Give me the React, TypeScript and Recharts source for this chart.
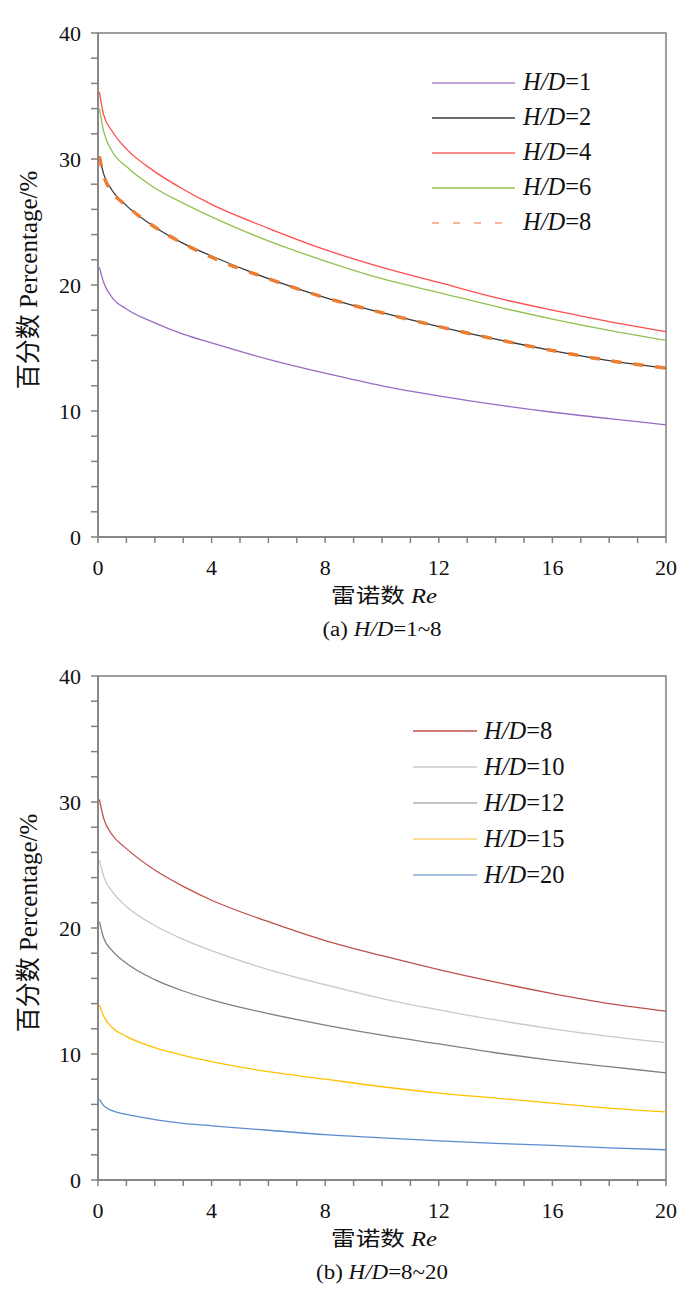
import React from 'react';
import { LineChart, Line, XAxis, YAxis, ReferenceArea } from 'recharts';

// Reynolds numbers sampled along the curves
const reValues = [0.05, 0.2, 0.5, 1, 2, 3, 4, 6, 8, 10, 12, 14, 16, 18, 20];

// panel (a)
const hd1 = [21.4, 20.2, 19.0, 18.1, 17.0, 16.1, 15.4, 14.1, 13.0, 12.0, 11.2, 10.5, 9.9, 9.4, 8.9];
const hd2 = [30.2, 28.8, 27.5, 26.3, 24.6, 23.3, 22.3, 20.5, 19.0, 17.8, 16.7, 15.7, 14.8, 14.0, 13.4];
const hd4 = [35.3, 33.5, 32.2, 30.8, 29.0, 27.6, 26.4, 24.5, 22.8, 21.4, 20.2, 19.0, 18.0, 17.1, 16.3];
const hd6 = [34.0, 32.2, 30.6, 29.4, 27.7, 26.5, 25.4, 23.5, 21.9, 20.5, 19.4, 18.3, 17.3, 16.4, 15.6];
const hd8 = [30.2, 28.7, 27.4, 26.3, 24.6, 23.3, 22.2, 20.5, 19.0, 17.8, 16.7, 15.7, 14.8, 14.0, 13.4];

// panel (b)
const hd10 = [25.4, 24.1, 22.9, 21.7, 20.2, 19.1, 18.2, 16.7, 15.5, 14.4, 13.5, 12.7, 12.0, 11.4, 10.9];
const hd12 = [20.5, 19.2, 18.2, 17.2, 15.9, 15.0, 14.3, 13.2, 12.3, 11.5, 10.8, 10.1, 9.5, 9.0, 8.5];
const hd15 = [13.9, 13.0, 12.1, 11.4, 10.5, 9.9, 9.4, 8.6, 8.0, 7.4, 6.9, 6.5, 6.1, 5.7, 5.4];
const hd20 = [6.4, 5.9, 5.5, 5.2, 4.8, 4.5, 4.3, 3.95, 3.6, 3.35, 3.1, 2.9, 2.75, 2.55, 2.4];

const xTicks = Array.from({ length: 21 }, (_, i) => i);
const yTicks = Array.from({ length: 21 }, (_, i) => i * 2);

const SERIF = 'Liberation Serif';
const FONT = '"Liberation Serif", "Noto Sans CJK SC", serif';
const AXIS = '#808080';

type Series = {
  key: string;
  label: string;
  values: number[];
  color: string;
  width?: number;
  dash?: string;
  legendColor?: string;
  legendDash?: string;
};

const seriesA: Series[] = [
  { key: 'hd1', label: '1', values: hd1, color: '#9a6bc4', legendColor: '#a884cc' },
  { key: 'hd2', label: '2', values: hd2, color: '#3a3a3a' },
  { key: 'hd4', label: '4', values: hd4, color: '#ff4d4d', legendColor: '#ff6a6a' },
  { key: 'hd6', label: '6', values: hd6, color: '#92c050' },
  { key: 'hd8', label: '8', values: hd8, color: '#ed7d31', width: 3.5, dash: '10 12', legendColor: '#f4a070', legendDash: '7 14' },
];

const seriesB: Series[] = [
  { key: 'hd8', label: '8', values: hd8, color: '#c0504d' },
  { key: 'hd10', label: '10', values: hd10, color: '#c8c8c8' },
  { key: 'hd12', label: '12', values: hd12, color: '#808080', legendColor: '#b0b0b0' },
  { key: 'hd15', label: '15', values: hd15, color: '#ffc000', legendColor: '#ffd27a' },
  { key: 'hd20', label: '20', values: hd20, color: '#5b8bd0', legendColor: '#8aa8d8' },
];

const buildRows = (series: Series[]) =>
  reValues.map((re, i) => {
    const row: Record<string, number> = { re };
    series.forEach((s) => (row[s.key] = s.values[i]));
    return row;
  });

const HD = () => <span style={{ fontStyle: 'italic', fontFamily: SERIF }}>H/D</span>;

type LegendProps = { series: Series[]; top: number; left: number; lineLen: number; rowH: number; gap: number };

const HtmlLegend: React.FC<LegendProps> = ({ series, top, left, lineLen, rowH, gap }) => (
  <div style={{ position: 'absolute', top, left, fontFamily: SERIF, color: '#111' }}>
    {series.map((s) => (
      <div key={s.key} style={{ display: 'flex', alignItems: 'center', height: rowH }}>
        <svg width={lineLen} height={10} style={{ display: 'block' }}>
          <line
            x1={0}
            y1={5}
            x2={lineLen}
            y2={5}
            stroke={s.legendColor || s.color}
            strokeWidth={1.5}
            strokeDasharray={s.legendDash}
          />
        </svg>
        <span style={{ marginLeft: gap, fontSize: 24.5, lineHeight: 1 }}>
          <HD />={s.label}
        </span>
      </div>
    ))}
  </div>
);

type PanelProps = {
  top: number;
  series: Series[];
  caption: string;
  capLetter: string;
  legendTop: number;
  legendLeft: number;
  lineLen: number;
  rowH: number;
  gap: number;
};

const tickStyle = { fontSize: 22, fill: '#111', fontFamily: SERIF };

const Panel: React.FC<PanelProps> = ({ top, series, caption, capLetter, legendTop, legendLeft, lineLen, rowH, gap }) => {
  const data = buildRows(series);
  return (
    <div style={{ position: 'absolute', top, left: 0, width: 700, height: 645, fontFamily: FONT }}>
      <LineChart width={700} height={610} data={data} margin={{ top: 33, right: 34, bottom: 0, left: 0 }}>
        <XAxis
          dataKey="re"
          type="number"
          domain={[0, 20]}
          ticks={xTicks}
          interval={0}
          tickFormatter={(v: number) => (v % 4 === 0 ? String(v) : '')}
          height={73}
          tickSize={6}
          tickMargin={16}
          stroke={AXIS}
          strokeWidth={1.5}
          tick={tickStyle}
        />
        <YAxis
          type="number"
          domain={[0, 40]}
          ticks={yTicks}
          interval={0}
          tickFormatter={(v: number) => (v % 10 === 0 ? String(v) : '')}
          width={98}
          tickSize={7}
          tickMargin={10}
          stroke={AXIS}
          strokeWidth={1.5}
          tick={tickStyle}
        />
        <ReferenceArea x1={0} x2={20} y1={0} y2={40} fill="none" stroke={AXIS} strokeWidth={1.5} />
        {series.map((s) => (
          <Line
            key={s.key}
            dataKey={s.key}
            type="monotone"
            stroke={s.color}
            strokeWidth={s.width || 1.3}
            strokeDasharray={s.dash}
            dot={false}
            isAnimationActive={false}
          />
        ))}
      </LineChart>
      <HtmlLegend series={series} top={legendTop} left={legendLeft} lineLen={lineLen} rowH={rowH} gap={gap} />
      {/* y axis title */}
      <div
        style={{
          position: 'absolute',
          left: 26,
          top: 280,
          transform: 'translate(-50%, -50%) rotate(-90deg)',
          whiteSpace: 'nowrap',
          fontSize: 25,
          color: '#111',
        }}
      >
        百分数 <span style={{ fontFamily: SERIF }}>Percentage/%</span>
      </div>
      {/* x axis title */}
      <div
        style={{
          position: 'absolute',
          left: 384,
          top: 594,
          transform: 'translate(-50%, -50%) scaleX(1.2)',
          whiteSpace: 'nowrap',
          fontSize: 20.5,
          color: '#111',
        }}
      >
        雷诺数 <span style={{ fontStyle: 'italic', fontFamily: SERIF }}>Re</span>
      </div>
      {/* caption */}
      <div
        style={{
          position: 'absolute',
          left: 382,
          top: 629,
          transform: 'translate(-50%, -50%) scaleX(1.12)',
          whiteSpace: 'nowrap',
          fontSize: 20.5,
          fontFamily: SERIF,
          color: '#111',
        }}
      >
        ({capLetter}) <HD />={caption}
      </div>
    </div>
  );
};

export default function App() {
  return (
    <div style={{ position: 'absolute', top: 0, left: 0, width: 700, height: 1291, background: '#fff' }}>
      <Panel top={0} series={seriesA} caption="1~8" capLetter="a" legendTop={65} legendLeft={432} lineLen={83} rowH={35} gap={8} />
      <Panel top={643} series={seriesB} caption="8~20" capLetter="b" legendTop={70} legendLeft={413} lineLen={64} rowH={36} gap={7} />
    </div>
  );
}
